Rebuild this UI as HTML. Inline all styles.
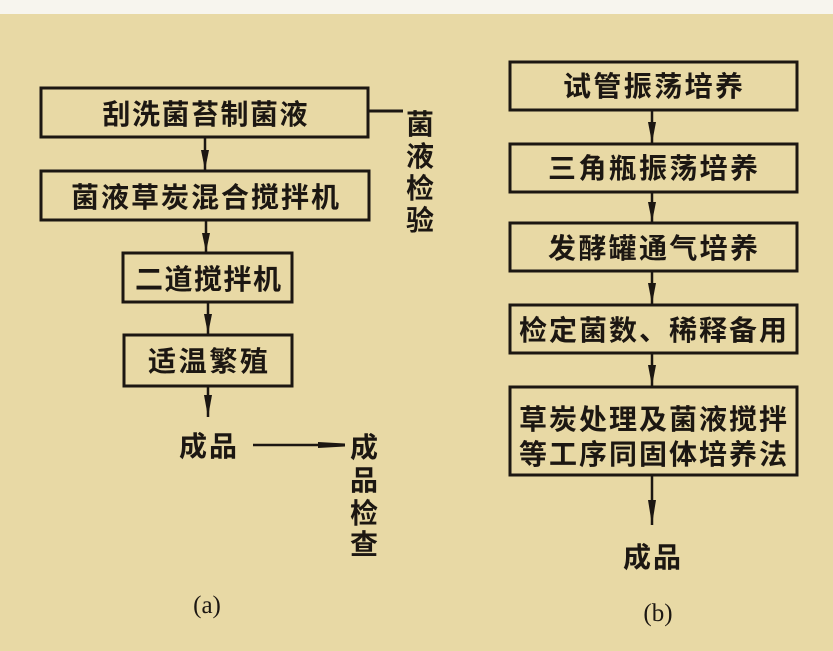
<!DOCTYPE html>
<html><head><meta charset="utf-8"><style>
html,body{margin:0;padding:0;background:#e8d9a5;}
svg{display:block}
text{font-family:"Liberation Sans","Noto Sans CJK SC",sans-serif;font-weight:bold;fill:#1c1712;}
</style></head><body>
<svg width="833" height="651" viewBox="0 0 833 651" xmlns="http://www.w3.org/2000/svg">
<rect x="0" y="0" width="833" height="14" fill="#f7f5ee"/>
<g fill="none" stroke="#1c1712" stroke-width="3">
<rect x="41" y="88" width="327" height="49"/>
<rect x="41" y="171" width="328" height="49"/>
<rect x="123" y="253" width="169" height="49"/>
<rect x="124" y="335" width="168" height="51"/>
<line x1="369" y1="111" x2="403" y2="111"/>
<line x1="205" y1="138" x2="205" y2="170" stroke-width="2.5"/>
<line x1="206" y1="221" x2="206" y2="252" stroke-width="2.5"/>
<line x1="208" y1="303" x2="208" y2="334" stroke-width="2.5"/>
<line x1="208" y1="387" x2="208" y2="417" stroke-width="2.5"/>
<line x1="253" y1="445" x2="345" y2="445" stroke-width="2.5"/>
<rect x="510" y="62" width="287" height="48"/>
<rect x="510" y="144" width="287" height="48"/>
<rect x="510" y="223" width="287" height="48"/>
<rect x="510" y="305" width="287" height="48"/>
<rect x="510" y="387" width="287" height="88"/>
<line x1="652" y1="110" x2="652" y2="143" stroke-width="2.5"/>
<line x1="652" y1="192" x2="652" y2="222" stroke-width="2.5"/>
<line x1="652" y1="271" x2="652" y2="304" stroke-width="2.5"/>
<line x1="652" y1="353" x2="652" y2="386" stroke-width="2.5"/>
<line x1="652" y1="475" x2="652" y2="525" stroke-width="2.5"/>
</g>
<g fill="#1c1712">
<path d="M201,150 L209,150 L205,170 Z"/><path d="M202,233 L210,233 L206,252 Z"/>
<path d="M204,314 L212,314 L208,334 Z"/><path d="M204,395 L212,395 L208,417 Z"/>
<path d="M318,442 L345,443.5 L345,446.5 L318,448 Z"/>
<path d="M648,122 L656,122 L652,143 Z"/><path d="M648,202 L656,202 L652,222 Z"/>
<path d="M648,283 L656,283 L652,304 Z"/><path d="M648,365 L656,365 L652,386 Z"/>
<path d="M648,500 L656,500 L652,525 Z"/>
</g>
<g font-size="28">
<text x="205" y="124" text-anchor="middle" textLength="205" lengthAdjust="spacing">刮洗菌苔制菌液</text>
<text x="205" y="207" text-anchor="middle" textLength="268" lengthAdjust="spacing">菌液草炭混合搅拌机</text>
<text x="208" y="289" text-anchor="middle" textLength="146" lengthAdjust="spacing">二道搅拌机</text>
<text x="208" y="371" text-anchor="middle" textLength="120" lengthAdjust="spacing">适温繁殖</text>
<text x="208" y="456" text-anchor="middle" textLength="58" lengthAdjust="spacing">成品</text>
<text x="420" y="134" text-anchor="middle">菌</text>
<text x="420" y="166" text-anchor="middle">液</text>
<text x="420" y="198" text-anchor="middle">检</text>
<text x="420" y="230" text-anchor="middle">验</text>
<text x="364" y="457" text-anchor="middle">成</text>
<text x="364" y="490" text-anchor="middle">品</text>
<text x="364" y="523" text-anchor="middle">检</text>
<text x="364" y="554" text-anchor="middle">查</text>
<text x="653" y="96" text-anchor="middle" textLength="180" lengthAdjust="spacing">试管振荡培养</text>
<text x="653" y="178" text-anchor="middle" textLength="210" lengthAdjust="spacing">三角瓶振荡培养</text>
<text x="653" y="258" text-anchor="middle" textLength="210" lengthAdjust="spacing">发酵罐通气培养</text>
<text x="653" y="340" text-anchor="middle" textLength="268" lengthAdjust="spacing">检定菌数、稀释备用</text>
<text x="653" y="429" text-anchor="middle" textLength="268" lengthAdjust="spacing">草炭处理及菌液搅拌</text>
<text x="653" y="464" text-anchor="middle" textLength="268" lengthAdjust="spacing">等工序同固体培养法</text>
<text x="652" y="567" text-anchor="middle" textLength="58" lengthAdjust="spacing">成品</text>
</g>
<text x="207" y="613" text-anchor="middle" font-size="25" style="font-weight:normal;font-family:'Liberation Serif',serif">(a)</text>
<text x="658" y="621" text-anchor="middle" font-size="25" style="font-weight:normal;font-family:'Liberation Serif',serif">(b)</text>
</svg>
</body></html>
